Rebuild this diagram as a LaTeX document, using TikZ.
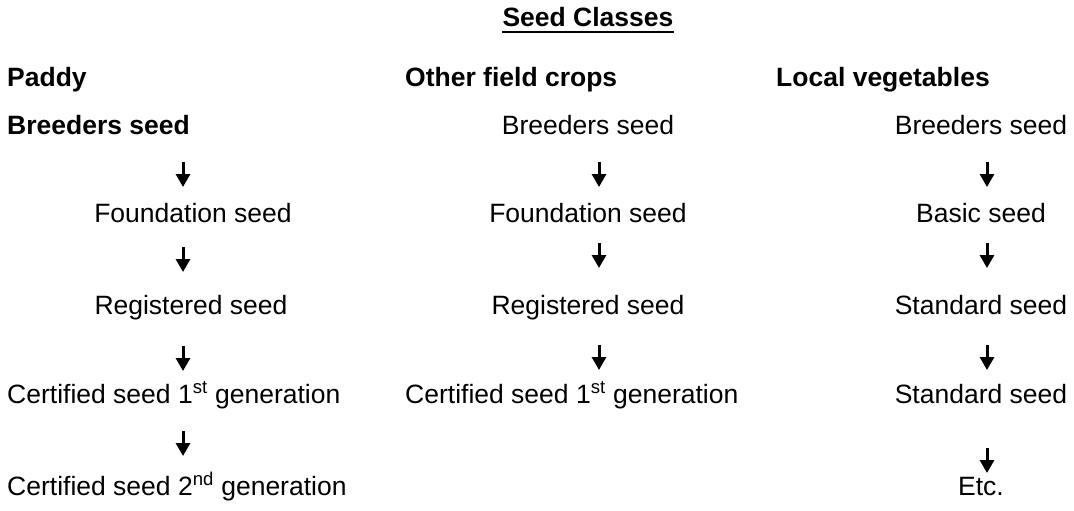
\documentclass[tikz,border=0pt]{standalone}
\usepackage{fontspec}
\setmainfont{Liberation Sans}
\usetikzlibrary{arrows.meta}
\begin{document}
\begin{tikzpicture}[x=1pt,y=-1pt,
  every node/.style={inner sep=0pt, font=\fontsize{26.5}{32}\selectfont},
  item/.style={anchor=base},
  itemleft/.style={anchor=base west},
  hdr/.style={anchor=base west, font=\fontsize{26.5}{32}\selectfont\bfseries},
  flow/.style={line width=3pt, -{Triangle[width=14pt,length=13pt]}}]
\useasboundingbox (0,0) rectangle (1074,511);

% title
\node[anchor=base, font=\fontsize{26.5}{32}\selectfont\bfseries] (title) at (588,27) {Seed Classes};
\draw[line width=2.6pt] ([yshift=-5pt]title.base west) -- ([yshift=-5pt]title.base east);

% column headings
\node[hdr] (h1) at (7,87) {Paddy};
\node[hdr] (h2) at (405,87) {Other field crops};
\node[hdr] (h3) at (776,87) {Local vegetables};

% paddy
\node[hdr] (p1) at (7,134) {Breeders seed};
\node[item] (p2) at (193,222) {Foundation seed};
\node[item] (p3) at (191,314) {Registered seed};
\node[itemleft] (p4) at (7,403) {Certified seed 1\textsuperscript{st} generation};
\node[itemleft] (p5) at (7,495) {Certified seed 2\textsuperscript{nd} generation};

% other field crops
\node[item] (o1) at (588,134) {Breeders seed};
\node[item] (o2) at (588,222) {Foundation seed};
\node[item] (o3) at (588,314) {Registered seed};
\node[itemleft] (o4) at (405,403) {Certified seed 1\textsuperscript{st} generation};

% local vegetables
\node[item] (l1) at (981,134) {Breeders seed};
\node[item] (l2) at (981,222) {Basic seed};
\node[item] (l3) at (981,314) {Standard seed};
\node[item] (l4) at (981,403) {Standard seed};
\node[item] (l5) at (981,495) {Etc.};

% arrow end points
\coordinate (pa1) at (183,162); \coordinate (pb1) at (183,187);
\coordinate (pa2) at (183,247); \coordinate (pb2) at (183,272);
\coordinate (pa3) at (183,346); \coordinate (pb3) at (183,371);
\coordinate (pa4) at (183,431); \coordinate (pb4) at (183,456);
\coordinate (oa1) at (599,162); \coordinate (ob1) at (599,187);
\coordinate (oa2) at (599,243); \coordinate (ob2) at (599,268);
\coordinate (oa3) at (599,345); \coordinate (ob3) at (599,370);
\coordinate (la1) at (987,162); \coordinate (lb1) at (987,187);
\coordinate (la2) at (987,243); \coordinate (lb2) at (987,268);
\coordinate (la3) at (987,345); \coordinate (lb3) at (987,370);
\coordinate (la4) at (987,448); \coordinate (lb4) at (987,473);

% downward steps
\draw[flow] (pa1) -- (pb1);
\draw[flow] (pa2) -- (pb2);
\draw[flow] (pa3) -- (pb3);
\draw[flow] (pa4) -- (pb4);
\draw[flow] (oa1) -- (ob1);
\draw[flow] (oa2) -- (ob2);
\draw[flow] (oa3) -- (ob3);
\draw[flow] (la1) -- (lb1);
\draw[flow] (la2) -- (lb2);
\draw[flow] (la3) -- (lb3);
\draw[flow] (la4) -- (lb4);
\end{tikzpicture}
\end{document}
